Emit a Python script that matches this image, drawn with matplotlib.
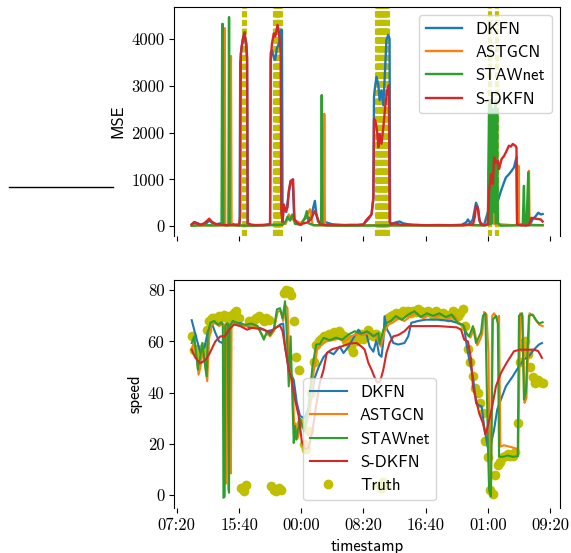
"""anomaly plot: MSE of the models and predicted speed vs truth"""

import numpy as np
import matplotlib
matplotlib.use('Agg')
import matplotlib.pyplot as plt
from matplotlib.lines import Line2D

plt.rcParams['font.family'] = 'cmss10'
plt.rcParams['font.size'] = 12
plt.rcParams['axes.unicode_minus'] = False

tick_pos = [0, 100, 200, 300, 400, 500, 600]
tick_labels = ['07:20', '15:40', '00:00', '08:20', '16:40', '01:00', '09:20']

models = ['DKFN', 'ASTGCN', 'STAWnet', 'S-DKFN']

# indices flagged as anomalies (yellow dashed lines)
anomaly_idx = [108, 109,
               158, 159, 160, 161, 162, 163, 164, 165, 166, 167,
               322, 323, 324, 325, 326, 327, 328, 329, 330, 331, 332, 333, 334, 335, 336, 337, 338, 339,
               504, 514]

# ---- MSE per model (index, mse)
dkfn_mse = [(24, 30), (28, 90), (34, 60), (40, 20), (46, 40), (52, 120), (58, 60), (64, 40), (70, 60), (76, 30),
            (82, 20), (88, 50), (94, 30), (101, 40), (102, 3500), (104, 3800), (107, 4050), (109, 4150), (111, 3900),
            (113, 3600), (114, 60), (118, 30), (124, 20), (132, 25), (140, 20), (148, 40), (150, 50), (151, 3700),
            (153, 3760), (156, 3600), (158, 3550), (161, 3800), (164, 3900), (166, 4000), (168, 4200), (169, 4180),
            (170, 80), (172, 420), (176, 300), (180, 700), (183, 950), (186, 1000), (189, 150), (192, 100), (198, 40),
            (204, 130), (209, 200), (214, 150), (218, 320), (222, 540), (224, 300), (227, 100), (232, 50), (240, 80),
            (250, 40), (260, 30), (270, 20), (280, 25), (290, 20), (300, 40), (308, 150), (313, 250), (316, 600),
            (317, 2760), (318, 2900), (321, 3190), (324, 3010), (326, 2690), (329, 2900), (332, 2580), (334, 3120),
            (337, 3980), (340, 4087), (342, 4000), (343, 60), (348, 60), (352, 80), (358, 100), (364, 60), (372, 40),
            (380, 30), (400, 20), (420, 25), (440, 20), (458, 30), (465, 80), (468, 143), (472, 60), (476, 150),
            (481, 500), (484, 400), (487, 100), (490, 50), (494, 30), (500, 300), (504, 500), (508, 600), (512, 540),
            (516, 540), (521, 750), (525, 900), (529, 1040), (534, 1110), (538, 1180), (542, 1255), (546, 1470),
            (547, 80), (550, 40), (556, 30), (562, 20), (568, 40), (572, 150), (577, 215), (581, 287), (585, 250),
            (588, 260)]

astgcn_mse = [(24, 15), (60, 20), (76, 20), (77, 4230), (78, 20), (86, 20), (87, 3635), (88, 20), (120, 15),
              (175, 50), (180, 250), (185, 150), (200, 60), (205, 150), (210, 250), (214, 360), (218, 40), (220, 20),
              (236, 20), (237, 2400), (238, 20), (300, 20), (460, 20), (480, 20), (500, 30), (503, 2500), (504, 40),
              (509, 2400), (510, 50), (540, 20), (548, 30), (549, 1290), (550, 30), (565, 30), (566, 1180), (567, 30),
              (588, 20)]

stawnet_mse = [(24, 10), (40, 20), (60, 15), (72, 20), (73, 4320), (74, 4320), (75, 20), (83, 20), (84, 4467),
               (85, 20), (100, 15), (120, 10), (150, 20), (170, 30), (175, 100), (178, 200), (182, 120), (186, 250),
               (190, 50), (200, 30), (206, 180), (209, 320), (212, 60), (220, 20), (232, 20), (233, 2800), (234, 20),
               (260, 10), (460, 20), (470, 30), (480, 20), (495, 15), (500, 30), (502, 2600), (503, 40), (505, 2700),
               (506, 50), (508, 2500), (510, 300), (512, 2650), (513, 60), (515, 2500), (516, 80), (520, 10),
               (540, 15), (556, 20), (558, 860), (559, 20), (562, 20), (565, 1150), (566, 20), (588, 20)]

sdkfn_mse = [(24, 40), (28, 80), (32, 60), (38, 30), (44, 60), (50, 130), (52, 160), (56, 100), (62, 50), (70, 30),
             (80, 20), (90, 30), (100, 20), (102, 200), (103, 3690), (105, 3900), (107, 4050), (109, 4120),
             (110, 4000), (112, 3900), (113, 3600), (114, 60), (120, 30), (130, 20), (140, 25), (148, 30), (150, 60),
             (151, 3550), (153, 3900), (156, 4120), (158, 4050), (160, 4150), (162, 4300), (164, 4150), (166, 3900),
             (167, 3700), (168, 300), (170, 100), (172, 466), (175, 320), (178, 400), (180, 750), (183, 970),
             (185, 950), (187, 1000), (189, 150), (193, 80), (198, 30), (204, 60), (210, 80), (216, 150), (220, 280),
             (222, 320), (226, 180), (230, 40), (240, 20), (270, 25), (300, 30), (304, 120), (308, 180), (313, 250),
             (316, 600), (317, 2290), (319, 2260), (322, 2040), (324, 1685), (326, 1970), (329, 1760), (332, 2115),
             (335, 2545), (338, 2900), (341, 3010), (342, 100), (344, 40), (350, 60), (360, 30), (400, 20),
             (460, 20), (470, 40), (476, 30), (479, 200), (481, 430), (484, 380), (486, 150), (489, 30), (495, 20),
             (500, 40), (502, 750), (505, 1110), (508, 900), (510, 1470), (513, 1350), (516, 1400), (518, 1220),
             (522, 1434), (526, 1500), (529, 1577), (534, 1720), (537, 1700), (540, 1756), (544, 1720), (546, 1685),
             (547, 40), (552, 20), (560, 15), (566, 20), (570, 180), (572, 170), (577, 160), (582, 150), (585, 143),
             (588, 100)]

# ---- predicted speed per model (index, speed)
dkfn_speed = [(24, 68.3), (30, 62.7), (38, 55.5), (45, 58), (50, 64), (57, 66.6), (62, 63.4), (68, 60), (73, 59.4),
              (80, 64), (89, 67), (102, 67.2), (118, 65.3), (134, 65.3), (145, 64), (156, 64.6), (166, 66.6),
              (171, 67), (174, 58), (180, 49), (188, 45), (193, 36), (198, 31), (205, 30), (212, 34), (218, 40),
              (222, 46), (228, 50), (236, 54), (244, 56), (252, 55), (262, 58), (268, 55.5), (276, 58), (284, 61.4),
              (292, 64.6), (298, 62.5), (304, 63.5), (310, 58), (316, 56), (321, 60.7), (325, 55), (329, 54),
              (332, 60), (334, 69.8), (338, 64.6), (342, 63), (348, 59.4), (356, 58.8), (366, 59.4), (372, 62),
              (377, 67.3), (388, 68), (400, 68.5), (420, 68.5), (440, 68), (455, 67), (462, 66), (465, 60), (470, 53),
              (476, 46.4), (481, 36), (486, 35), (490, 34.7), (494, 27), (500, 18.5), (505, 20), (510, 25.6),
              (515, 33.4), (520, 36.7), (529, 42.5), (540, 46.4), (550, 50.3), (558, 53), (566, 54.2), (574, 56.8),
              (582, 58.8), (587, 59.4)]

astgcn_speed = [(24, 57), (28, 60), (32, 54), (35, 47), (38, 50), (42, 57), (46, 50), (49, 44.5), (52, 61),
                (56, 66.5), (62, 67.5), (68, 66), (74, 67), (77, 66.5), (78, 5), (79, 4.5), (80, 65), (82, 66),
                (85, 67), (86, 9), (87, 8.5), (88, 66), (92, 67.5), (100, 66.5), (110, 66), (120, 66.5), (130, 65.5),
                (140, 61.5), (145, 63), (150, 62), (156, 64), (162, 71.5), (167, 72), (171, 68), (175, 74), (178, 73),
                (181, 50), (184, 45), (187, 40), (189, 25), (191, 28), (194, 22), (200, 28), (207, 26), (214, 33),
                (220, 48), (226, 57.5), (232, 58.5), (240, 60), (250, 60.5), (260, 61), (270, 60), (280, 62),
                (290, 63), (300, 62.5), (310, 63.5), (320, 62), (328, 58), (334, 64), (340, 66.5), (348, 67.5),
                (356, 69), (366, 68), (376, 70), (386, 71), (396, 69), (406, 70.5), (416, 69.5), (426, 70.5),
                (436, 69), (446, 70), (456, 66.5), (462, 66), (467, 62.5), (472, 61.5), (478, 65), (483, 58.5),
                (488, 61), (491, 63), (494, 71.5), (498, 70.5), (501, 55), (503, 4), (505, 5), (507, 70), (510, 71),
                (515, 69), (518, 70), (520, 19), (526, 19.5), (534, 19), (542, 18.5), (549, 17.8), (552, 71),
                (556, 70), (559, 36), (562, 38), (567, 71), (573, 70), (578, 68), (583, 66.5), (588, 66)]

stawnet_speed = [(24, 59.4), (28, 62), (31, 55.5), (34, 49), (37, 53), (41, 59.4), (45, 51.6), (48, 46.4),
                 (50, 63.3), (54, 67.3), (60, 68), (66, 66.5), (72, 67.5), (74, 66), (75, -1), (77, -0.5), (78, 66),
                 (80, 67), (82, 67), (83, 2.5), (84, 1), (85, 66), (90, 68), (100, 67), (110, 66.5), (120, 67),
                 (130, 66), (140, 60.7), (145, 64), (150, 62.5), (156, 65), (161, 72.5), (166, 73), (170, 69),
                 (174, 75.7), (177, 62), (180, 42.5), (183, 62), (186, 36), (188, 20.4), (190, 27), (192, 21.7),
                 (198, 30), (205, 25), (212, 35), (218, 50), (224, 58.8), (230, 59), (236, 61.4), (246, 60.5),
                 (256, 61.5), (266, 60.7), (276, 62.7), (286, 64), (296, 63), (306, 64), (316, 62), (324, 63.3),
                 (326, 59), (332, 64.6), (338, 67.3), (344, 68), (352, 69.9), (362, 68.5), (372, 70.5), (382, 71.8),
                 (392, 69.5), (402, 71), (412, 70), (422, 71), (432, 69.5), (442, 70.5), (452, 67), (460, 66.5),
                 (465, 63.4), (470, 62), (476, 66), (481, 59.4), (486, 62), (489, 63.5), (492, 70), (496, 71),
                 (500, 20.4), (502, 2), (505, -0.4), (508, 68.5), (513, 70), (516, 67), (518, 15), (524, 15),
                 (532, 15.5), (540, 15), (548, 15.2), (550, 70), (555, 71), (558, 37.3), (561, 40), (566, 70),
                 (572, 70.5), (577, 68.5), (582, 67), (588, 67.5)]

sdkfn_speed = [(24, 56.8), (30, 53.6), (38, 51.6), (45, 52.5), (52, 55), (62, 60), (70, 62), (77, 62), (84, 64.6),
               (92, 66.6), (102, 66), (113, 64.6), (121, 65.3), (130, 65), (140, 64.6), (150, 63.4), (158, 65.3),
               (166, 66.2), (170, 64), (174, 58), (180, 49), (185, 45), (190, 37.3), (196, 30.8), (201, 21),
               (206, 18), (212, 18.5), (218, 25), (224, 35), (230, 44), (236, 49), (241, 55.5), (250, 57),
               (262, 57.8), (278, 59.2), (289, 59.4), (297, 58), (302, 56.8), (308, 51.6), (313, 49), (318, 46),
               (322, 44), (327, 44.5), (332, 49), (337, 55.5), (342, 59.4), (348, 62), (356, 62.5), (366, 64),
               (374, 66), (390, 66), (420, 66), (450, 65.5), (457, 64.6), (462, 60.7), (468, 60), (473, 53),
               (476, 42.5), (481, 37.3), (486, 32), (492, 28.2), (496, 23.7), (500, 27), (506, 33.4), (513, 42.5),
               (521, 47.7), (531, 52), (542, 56.2), (552, 56.8), (566, 56.8), (575, 56.8), (581, 56.2), (587, 53.6)]

truth_speed = [(24, 62), (28, 56.8), (32, 57), (36, 55), (40, 55.5), (44, 58), (48, 64.6), (52, 68), (56, 69),
               (60, 69.2), (64, 68.5), (68, 70), (72, 69.5), (76, 70.5), (80, 69), (84, 70), (88, 69.5), (92, 71),
               (96, 71.8), (100, 69), (104, 3), (108, 1.5), (112, 4), (116, 68), (120, 67.5), (124, 68.5), (128, 69),
               (132, 70), (136, 69), (140, 68), (144, 69), (148, 68.5), (152, 3.5), (156, 2), (160, 1.5), (164, 3),
               (168, 2), (172, 79), (176, 80), (180, 79.5), (184, 78), (188, 68), (192, 54), (196, 49), (200, 28),
               (204, 20), (208, 18), (212, 25), (216, 40), (220, 52), (224, 58.5), (228, 60), (232, 61), (236, 62),
               (240, 62), (244, 63), (248, 62.5), (252, 63.5), (256, 63), (260, 64), (264, 63), (268, 62), (272, 60),
               (276, 61), (280, 58), (284, 56), (288, 60), (292, 62), (296, 63), (300, 61), (304, 62), (308, 64.6),
               (312, 63), (316, 62), (320, 63), (324, 4), (328, 3), (332, 5), (336, 4), (340, 69), (344, 70),
               (348, 70.5), (352, 71), (356, 70.5), (360, 71), (364, 72), (368, 71.5), (372, 72), (376, 71),
               (380, 72), (384, 71.5), (388, 72.5), (392, 71.8), (396, 71), (400, 71.5), (404, 72), (408, 71),
               (412, 70.5), (416, 72), (420, 71), (424, 70), (428, 71), (432, 70.5), (436, 69.5), (440, 70),
               (444, 71.8), (448, 71), (452, 70), (456, 71), (460, 72.5), (464, 66), (468, 57), (472, 52),
               (476, 46.4), (480, 42), (484, 40), (488, 36), (492, 32), (496, 21), (500, 15), (504, 2.2), (508, 0.3),
               (512, 8), (516, 12), (520, 13), (524, 15), (528, 15.2), (532, 16), (536, 15.5), (540, 15.2),
               (544, 17), (548, 28), (552, 52), (556, 58), (560, 60), (564, 55), (568, 50), (572, 46), (576, 43.8),
               (580, 45), (584, 44), (588, 43.8)]

mse_series = [dkfn_mse, astgcn_mse, stawnet_mse, sdkfn_mse]
speed_series = [dkfn_speed, astgcn_speed, stawnet_speed, sdkfn_speed]


def style_axes(ax):
    ax.spines['bottom'].set_visible(False)
    ax.set_xticks(tick_pos)
    ax.tick_params(labelfontfamily='cmr10', labelsize=12)


fig = plt.figure(figsize=(5.71, 5.53), dpi=100)
ax1 = fig.add_axes([0.305, 0.573, 0.676, 0.415])
ax2 = fig.add_axes([0.305, 0.081, 0.676, 0.413])

# top: MSE with anomaly markers
for i in anomaly_idx:
    ax1.axvline(i, color='y', linewidth=3, linestyle=(0, (1.45, 0.65)))
for name, series in zip(models, mse_series):
    x, y = np.array(series).T
    ax1.plot(x, y, label=name, linewidth=1.7)
ax1.set_ylabel('MSE')
ax1.set_yticks([0, 1000, 2000, 3000, 4000])
style_axes(ax1)
ax1.set_xticklabels([])
ax1.legend(loc='upper right', handlelength=2.2)

# bottom: predicted speed vs truth
for name, series in zip(models, speed_series):
    x, y = np.array(series).T
    ax2.plot(x, y, label=name, linewidth=1.5)
tx, ty = np.array(truth_speed).T
ax2.plot(tx, ty, 'o', color='y', label='Truth', zorder=1)
ax2.set_ylabel('speed')
ax2.set_xlabel('timestamp')
ax2.set_yticks([0, 20, 40, 60, 80])
style_axes(ax2)
ax2.set_xticklabels(tick_labels)
ax2.legend(loc='lower left', bbox_to_anchor=(0.313, 0.0), handlelength=2.2)

# stray line left of the top panel
fig.add_artist(Line2D([9 / 571, 113 / 571], [1 - 186.5 / 553] * 2, color='k', linewidth=1.0))

plt.savefig('out.png')
